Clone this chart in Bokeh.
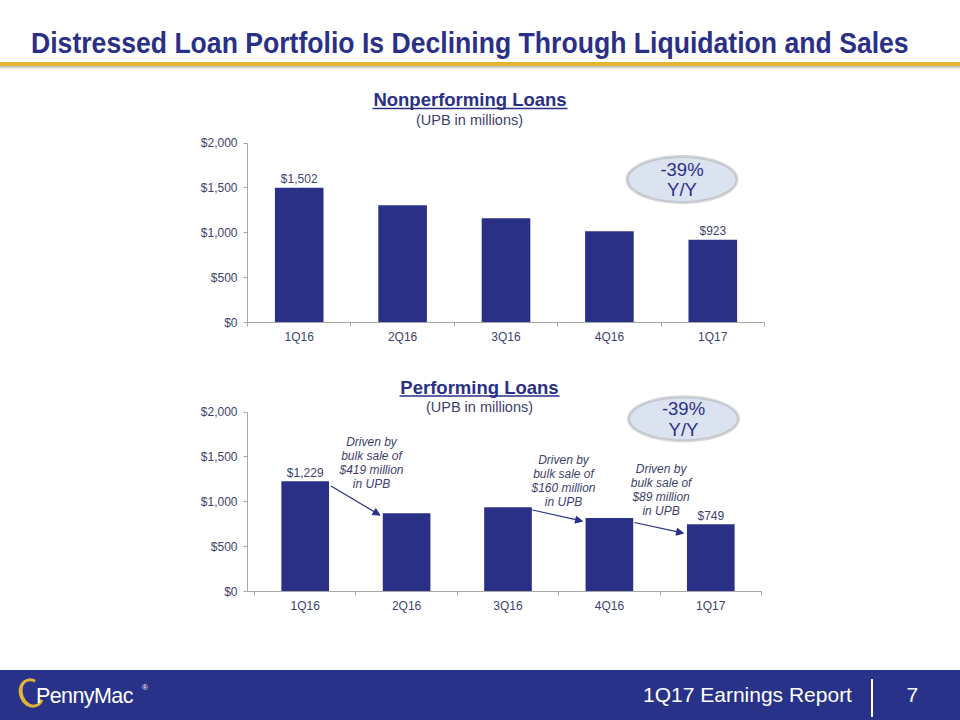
import numpy as np
from bokeh.plotting import figure
from bokeh.layouts import column
from bokeh.models import (Range1d, LinearAxis, FixedTicker, NumeralTickFormatter, Label,
                          BoxAnnotation, PolyAnnotation, Arrow, NormalHead, Div)
from bokeh.core.properties import value
from bokeh.embed import file_html
from bokeh.resources import INLINE

# ---------------- data ----------------
quarters = ["1Q16", "2Q16", "3Q16", "4Q16", "1Q17"]
nonperforming_upb = [1502, 1306, 1161, 1017, 923]
performing_upb = [1229, 872, 939, 820, 749]
y_ticks = [0, 500, 1000, 1500, 2000]
npl_change = ["-39%", "Y/Y"]
pl_change = ["-39%", "Y/Y"]
sale_notes = [
    ["Driven by", "bulk sale of", "$419 million", "in UPB"],
    ["Driven by", "bulk sale of", "$160 million", "in UPB"],
    ["Driven by", "bulk sale of", "$89 million", "in UPB"],
]
slide_title = "Distressed Loan Portfolio Is Declining Through Liquidation and Sales"
footer_text = "1Q17 Earnings Report"
page_number = "7"

# ---------------- style ----------------
NAVY = "#2B3087"
BAND = "#283289"
GOLD = "#E0B533"
TEXT = "#3E3F6C"
AXIS = "#A6A6A6"
FONT = "Liberation Sans"
W = 960
Y_MAX = 2000


def canvas_label(p, x, y, text, size, color=TEXT, style="normal", align="center",
                 baseline="middle", font=FONT):
    p.add_layout(Label(x=x, y=y, x_units="canvas", y_units="canvas", text=text,
                       text_font=font, text_font_size=size, text_font_style=style,
                       text_color=color, text_align=align, text_baseline=baseline))


def underline(p, left, right, top, height=1.5):
    p.add_layout(BoxAnnotation(left=left, right=right, top=top, bottom=top + height,
                               left_units="canvas", right_units="canvas", top_units="canvas",
                               bottom_units="canvas", fill_color=NAVY, fill_alpha=1.0,
                               line_color=None))


def ellipse_badge(p, cx, cy, rx, ry, lines, dy):
    t = np.linspace(0, 2 * np.pi, 90)
    p.add_layout(PolyAnnotation(xs=list(cx + rx * np.cos(t)), ys=list(cy + ry * np.sin(t)),
                                xs_units="canvas", ys_units="canvas",
                                fill_color="#DCE3F0", fill_alpha=1.0,
                                line_color="#7F7F7F", line_width=3))
    canvas_label(p, cx, cy - dy / 2, lines[0], "18.5px", color=NAVY)
    canvas_label(p, cx, cy + dy / 2, lines[1], "18.5px", color=NAVY)


def bar_chart(values, height, border_bottom, px_zero, px_top, x_left_px, unit_px,
              axis_left=247):
    """px_zero / px_top: canvas y of $0 and $2,000; x_left_px: canvas x of first category edge."""
    n = len(quarters)
    pos = [i + 0.5 for i in range(n)]
    frame_w = W - axis_left
    y_end = Y_MAX * px_zero / (px_zero - px_top)
    x_start = -(x_left_px - axis_left) / unit_px
    x_end = x_start + frame_w / unit_px
    p = figure(width=W, height=height, x_range=Range1d(x_start, x_end),
               y_range=Range1d(0, y_end), toolbar_location=None, output_backend="svg",
               x_axis_location=None, min_border_left=axis_left, min_border_right=0,
               min_border_top=0, min_border_bottom=border_bottom, outline_line_color=None)
    p.grid.visible = False
    p.vbar(x=pos, top=values, width=0.47, fill_color=NAVY, line_color=None)

    ya = p.yaxis[0]
    ya.bounds = (0, Y_MAX)
    ya.ticker = FixedTicker(ticks=y_ticks)
    ya.formatter = NumeralTickFormatter(format="$0,0")
    ya.minor_tick_line_color = None
    ya.major_tick_out = 4
    ya.major_tick_in = 0
    ya.axis_line_color = AXIS
    ya.major_tick_line_color = AXIS
    ya.major_label_text_font = FONT
    ya.major_label_text_font_size = "12px"
    ya.major_label_text_color = TEXT
    ya.major_label_standoff = 6

    xa = LinearAxis(ticker=FixedTicker(ticks=pos, minor_ticks=list(range(n + 1))),
                    bounds=(x_start, n),
                    major_label_overrides={pp: q for pp, q in zip(pos, quarters)},
                    major_tick_line_color=None, major_tick_out=0, major_tick_in=0,
                    minor_tick_line_color=AXIS, minor_tick_out=4, minor_tick_in=0,
                    axis_line_color=AXIS, major_label_standoff=3,
                    major_label_text_font=FONT, major_label_text_font_size="12px",
                    major_label_text_color=TEXT)
    p.add_layout(xa, "below")

    idx = [0, n - 1]
    p.text(x=[pos[i] for i in idx], y=[values[i] for i in idx],
           text=["${:,}".format(values[i]) for i in idx],
           text_font=value(FONT), text_font_size="12px", text_color=TEXT,
           text_align="center", text_baseline="middle", y_offset=-8.5)
    return p


# ---------------- header (0..80) ----------------
hdr_html = f"""
<div style="position:relative;width:{W}px;height:80px;background:#ffffff;overflow:hidden;">
  <div style="position:absolute;left:31px;top:28.8px;white-space:nowrap;line-height:29px;
              font-family:'Liberation Sans',sans-serif;font-weight:bold;font-size:29px;
              transform:scaleX(0.917);transform-origin:left center;color:{NAVY};">{slide_title}</div>
  <div style="position:absolute;left:0;top:61.7px;width:{W}px;height:4px;background:{GOLD};"></div>
  <div style="position:absolute;left:0;top:65.7px;width:{W}px;height:3.5px;
              background:linear-gradient(#BDBDBD,#F2F2F2);"></div>
</div>"""
hdr = Div(text=hdr_html, width=W, height=80, margin=0)

# ---------------- chart 1: nonperforming (80..355) ----------------
T1 = 80
c1 = bar_chart(nonperforming_upb, 275, 33, 322.3 - T1, 142.7 - T1, 247, 103.4)
canvas_label(c1, 469.5, 98.8 - T1, "Nonperforming Loans", "18.5px", color=NAVY, style="bold")
underline(c1, 372, 567, 107.3 - T1)
canvas_label(c1, 469, 119.8 - T1, "(UPB in millions)", "14.5px")
ellipse_badge(c1, 681.5, 179 - T1, 55, 23, npl_change, 20)

# ---------------- chart 2: performing (355..670) ----------------
T2 = 355
c2 = bar_chart(performing_upb, 315, 79, 591.3 - T2, 411.7 - T2, 254, 101.4)
canvas_label(c2, 479, 386.8 - T2, "Performing Loans", "18.5px", color=NAVY, style="bold")
underline(c2, 399, 559, 394.8 - T2)
canvas_label(c2, 479, 406.2 - T2, "(UPB in millions)", "14.5px")
ellipse_badge(c2, 683, 418.3 - T2, 55, 22, pl_change, 21.5)

note_pos = [(371, 441.5), (563, 459.5), (660.6, 468.5)]
for (nx, ny), lines in zip(note_pos, sale_notes):
    for k, line in enumerate(lines):
        canvas_label(c2, nx, ny - T2 + 14 * k, line, "12px", style="italic")

arrows = [((330.5, 485.5), (379.5, 514.7)),
          ((532, 509.5), (582, 520.7)),
          ((633.8, 522), (683, 532.7))]
for (x0, y0), (x1, y1) in arrows:
    c2.add_layout(Arrow(x_start=x0, y_start=y0 - T2, x_end=x1, y_end=y1 - T2,
                        start_units="canvas", end_units="canvas",
                        line_color=NAVY, line_width=1.2,
                        end=NormalHead(size=7, fill_color=NAVY, line_color=NAVY)))

# ---------------- footer (670..720) ----------------
ftr_html = f"""
<div style="position:relative;width:{W}px;height:50px;background:{BAND};overflow:hidden;
            font-family:'Liberation Sans',sans-serif;color:#ffffff;">
  <div style="position:absolute;left:19px;top:8px;width:25px;height:30px;border-radius:50%;
              border:3px solid {GOLD};border-left-width:4.5px;border-right-color:transparent;
              transform:rotate(-20deg);"></div>
  <div style="position:absolute;left:36px;top:16px;font-size:21.5px;line-height:21.5px;
              letter-spacing:-0.6px;white-space:nowrap;">PennyMac</div>
  <div style="position:absolute;left:142px;top:14px;font-size:8px;line-height:8px;">&reg;</div>
  <div style="position:absolute;left:643px;top:13.5px;font-size:21px;line-height:21px;
              white-space:nowrap;">{footer_text}</div>
  <div style="position:absolute;left:871px;top:9px;width:1.5px;height:38px;background:#ffffff;"></div>
  <div style="position:absolute;left:906.5px;top:13.5px;font-size:21px;line-height:21px;">{page_number}</div>
</div>"""
ftr = Div(text=ftr_html, width=W, height=50, margin=0)

layout = column(hdr, c1, c2, ftr, spacing=0)
open("out.html", "w").write(file_html(layout, INLINE))
